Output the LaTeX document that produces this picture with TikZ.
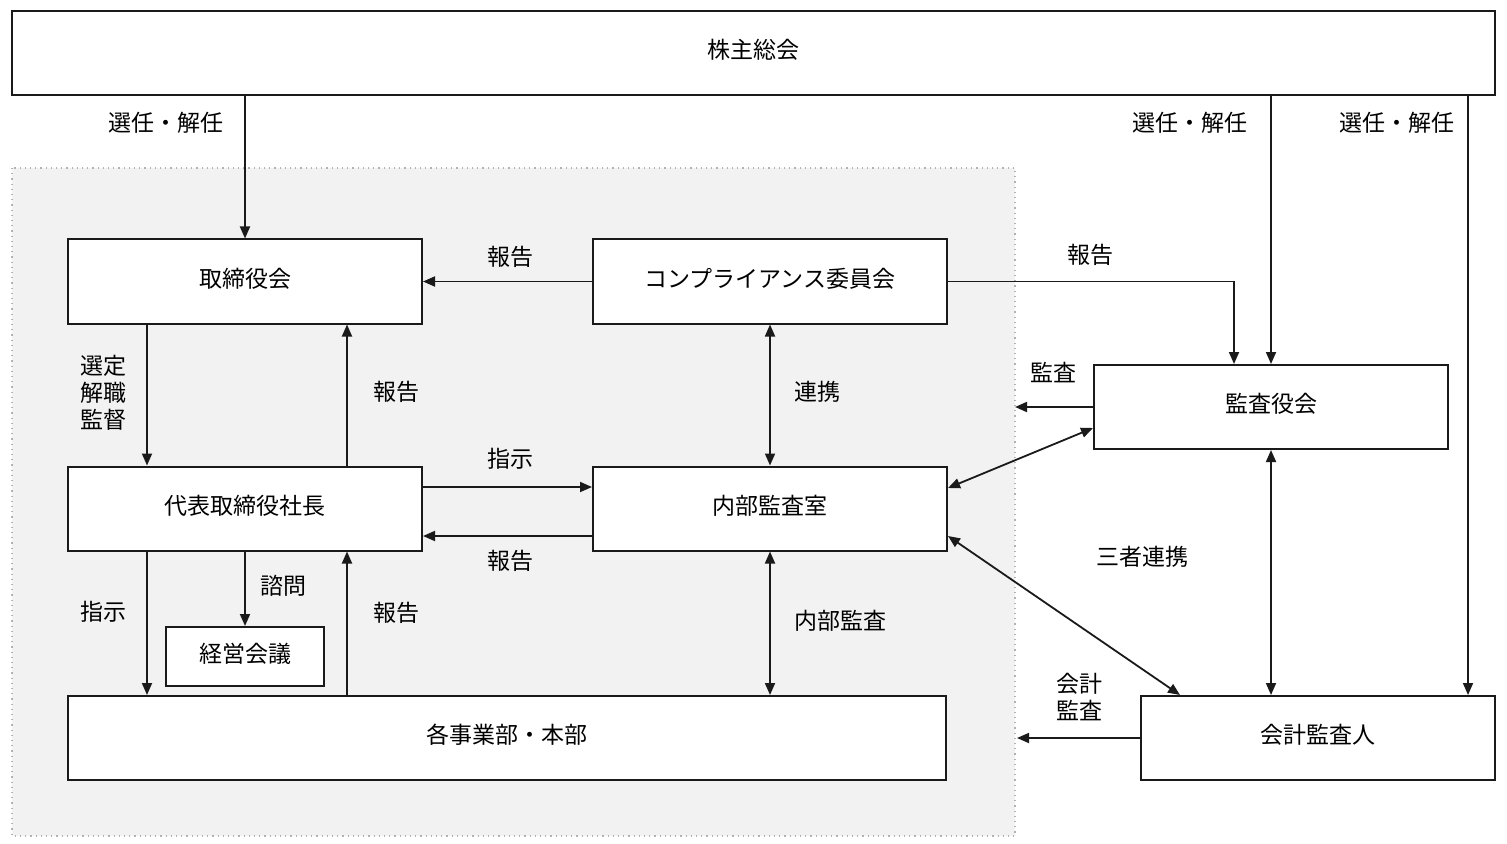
\documentclass[tikz,border=0pt]{standalone}
\usepackage{fontspec}
\setmainfont{Noto Sans CJK JP}
\usepackage{tikz}
\usetikzlibrary{arrows.meta,positioning,calc}
\definecolor{orgline}{HTML}{1A1A1A}
\definecolor{orgzone}{HTML}{F2F2F2}
\tikzset{
  box/.style={draw=orgline,line width=1pt,fill=white,minimum width=177pt,
    minimum height=42pt,inner sep=0pt,text height=9pt,text depth=3.2pt,
    font=\fontsize{11.5}{13.5}\selectfont},
  lbl/.style={align=center,inner sep=0pt,font=\fontsize{11.5}{13.5}\selectfont},
  arr/.style={-{Triangle[length=6pt,width=5pt]},line width=0.9pt,color=orgline},
  biarr/.style={arr,{Triangle[length=6pt,width=5pt]}-{Triangle[length=6pt,width=5pt]}},
}
\begin{document}
\begin{tikzpicture}[x=0.5pt,y=-0.5pt]
\useasboundingbox (0,0) rectangle (1507,844);
% company zone
\fill[orgzone] (12,168) rectangle (1015,836);
\draw[gray!60,dotted,line width=0.6pt] (12,168) rectangle (1015,836);
% boxes
\node[box,minimum width=741.5pt] (gm) at (753.5,53) {株主総会};
\node[box] (board) at (245,281.5) {取締役会};
\node[box,right=84.5pt of board] (comp) {コンプライアンス委員会};
\node[box,below=70.5pt of board] (pres) {代表取締役社長};
\node[box,below=70.5pt of comp] (iaud) {内部監査室};
\node[box] (asb) at (1271,407) {監査役会};
\node[box,minimum width=79pt,minimum height=29.5pt] (mgmt) at (245,656.5) {経営会議};
\node[box,minimum width=439pt] (divs) at (507,738) {各事業部・本部};
\node[box] (ext) at (1318,738) {会計監査人};
\coordinate (audL) at (1015,407);
\coordinate (accL) at (1017,738);
\coordinate (repC) at (1234,281.5);
% shareholders
\draw[arr] (gm.south -| board) -- (board.north);
\draw[arr] (gm.south -| asb) -- (asb.north);
\draw[arr] ([xshift=75pt]gm.south -| ext) -- ([xshift=75pt]ext.north);
\node[lbl] (sel1) at (166,123) {選任・解任};
\node[lbl] (sel2) at (1190,123) {選任・解任};
\node[lbl] (sel3) at (1397,123) {選任・解任};
% board / president
\draw[arr] (comp.west) -- (board.east);
\draw[arr] (comp.east) -| (repC |- asb.north);
\draw[arr] ([xshift=-49pt]board.south) -- ([xshift=-49pt]pres.north);
\draw[arr] ([xshift=51pt]pres.north) -- ([xshift=51pt]board.south);
\draw[biarr] (comp.south) -- (iaud.north);
\draw[arr] ([yshift=10.75pt]pres.east) -- ([yshift=10.75pt]iaud.west);
\draw[arr] ([yshift=-13.75pt]iaud.west) -- ([yshift=-13.75pt]pres.east);
\node[lbl] (rep1) at (510,257) {報告};
\node[lbl] (rep2) at (1090,255) {報告};
\node[lbl] (supv) at (103,393) {選定\\解職\\監督};
\node[lbl] (rep3) at (396,392) {報告};
\node[lbl] (coop) at (817,392) {連携};
\node[lbl] (inst1) at (510,459) {指示};
\node[lbl] (rep4) at (510,561) {報告};
% auditors
\draw[arr] (asb.west) -- (audL);
\draw[biarr] ([yshift=10.25pt]iaud.east) -- ([yshift=-10.5pt]asb.west);
\draw[biarr] ([yshift=-13.75pt]iaud.east) -- ([xshift=-69pt]ext.north);
\draw[biarr] (asb.south) -- (asb.south |- ext.north);
\draw[arr] (ext.west) -- (accL);
\node[lbl] (aud) at (1053,373) {監査};
\node[lbl] (three) at (1142,557) {三者連携};
\node[lbl] (acc) at (1079,697) {会計\\監査};
% divisions
\draw[arr] ([xshift=-49pt]pres.south) -- ([xshift=-49pt]pres.south |- divs.north);
\draw[arr] (pres.south) -- (mgmt.north);
\draw[arr] ([xshift=51pt]pres.south |- divs.north) -- ([xshift=51pt]pres.south);
\draw[biarr] (iaud.south) -- (iaud.south |- divs.north);
\node[lbl] (inst2) at (103,612) {指示};
\node[lbl] (cons) at (283,586) {諮問};
\node[lbl] (rep5) at (396,613) {報告};
\node[lbl] (ia) at (840,621) {内部監査};
\end{tikzpicture}
\end{document}
